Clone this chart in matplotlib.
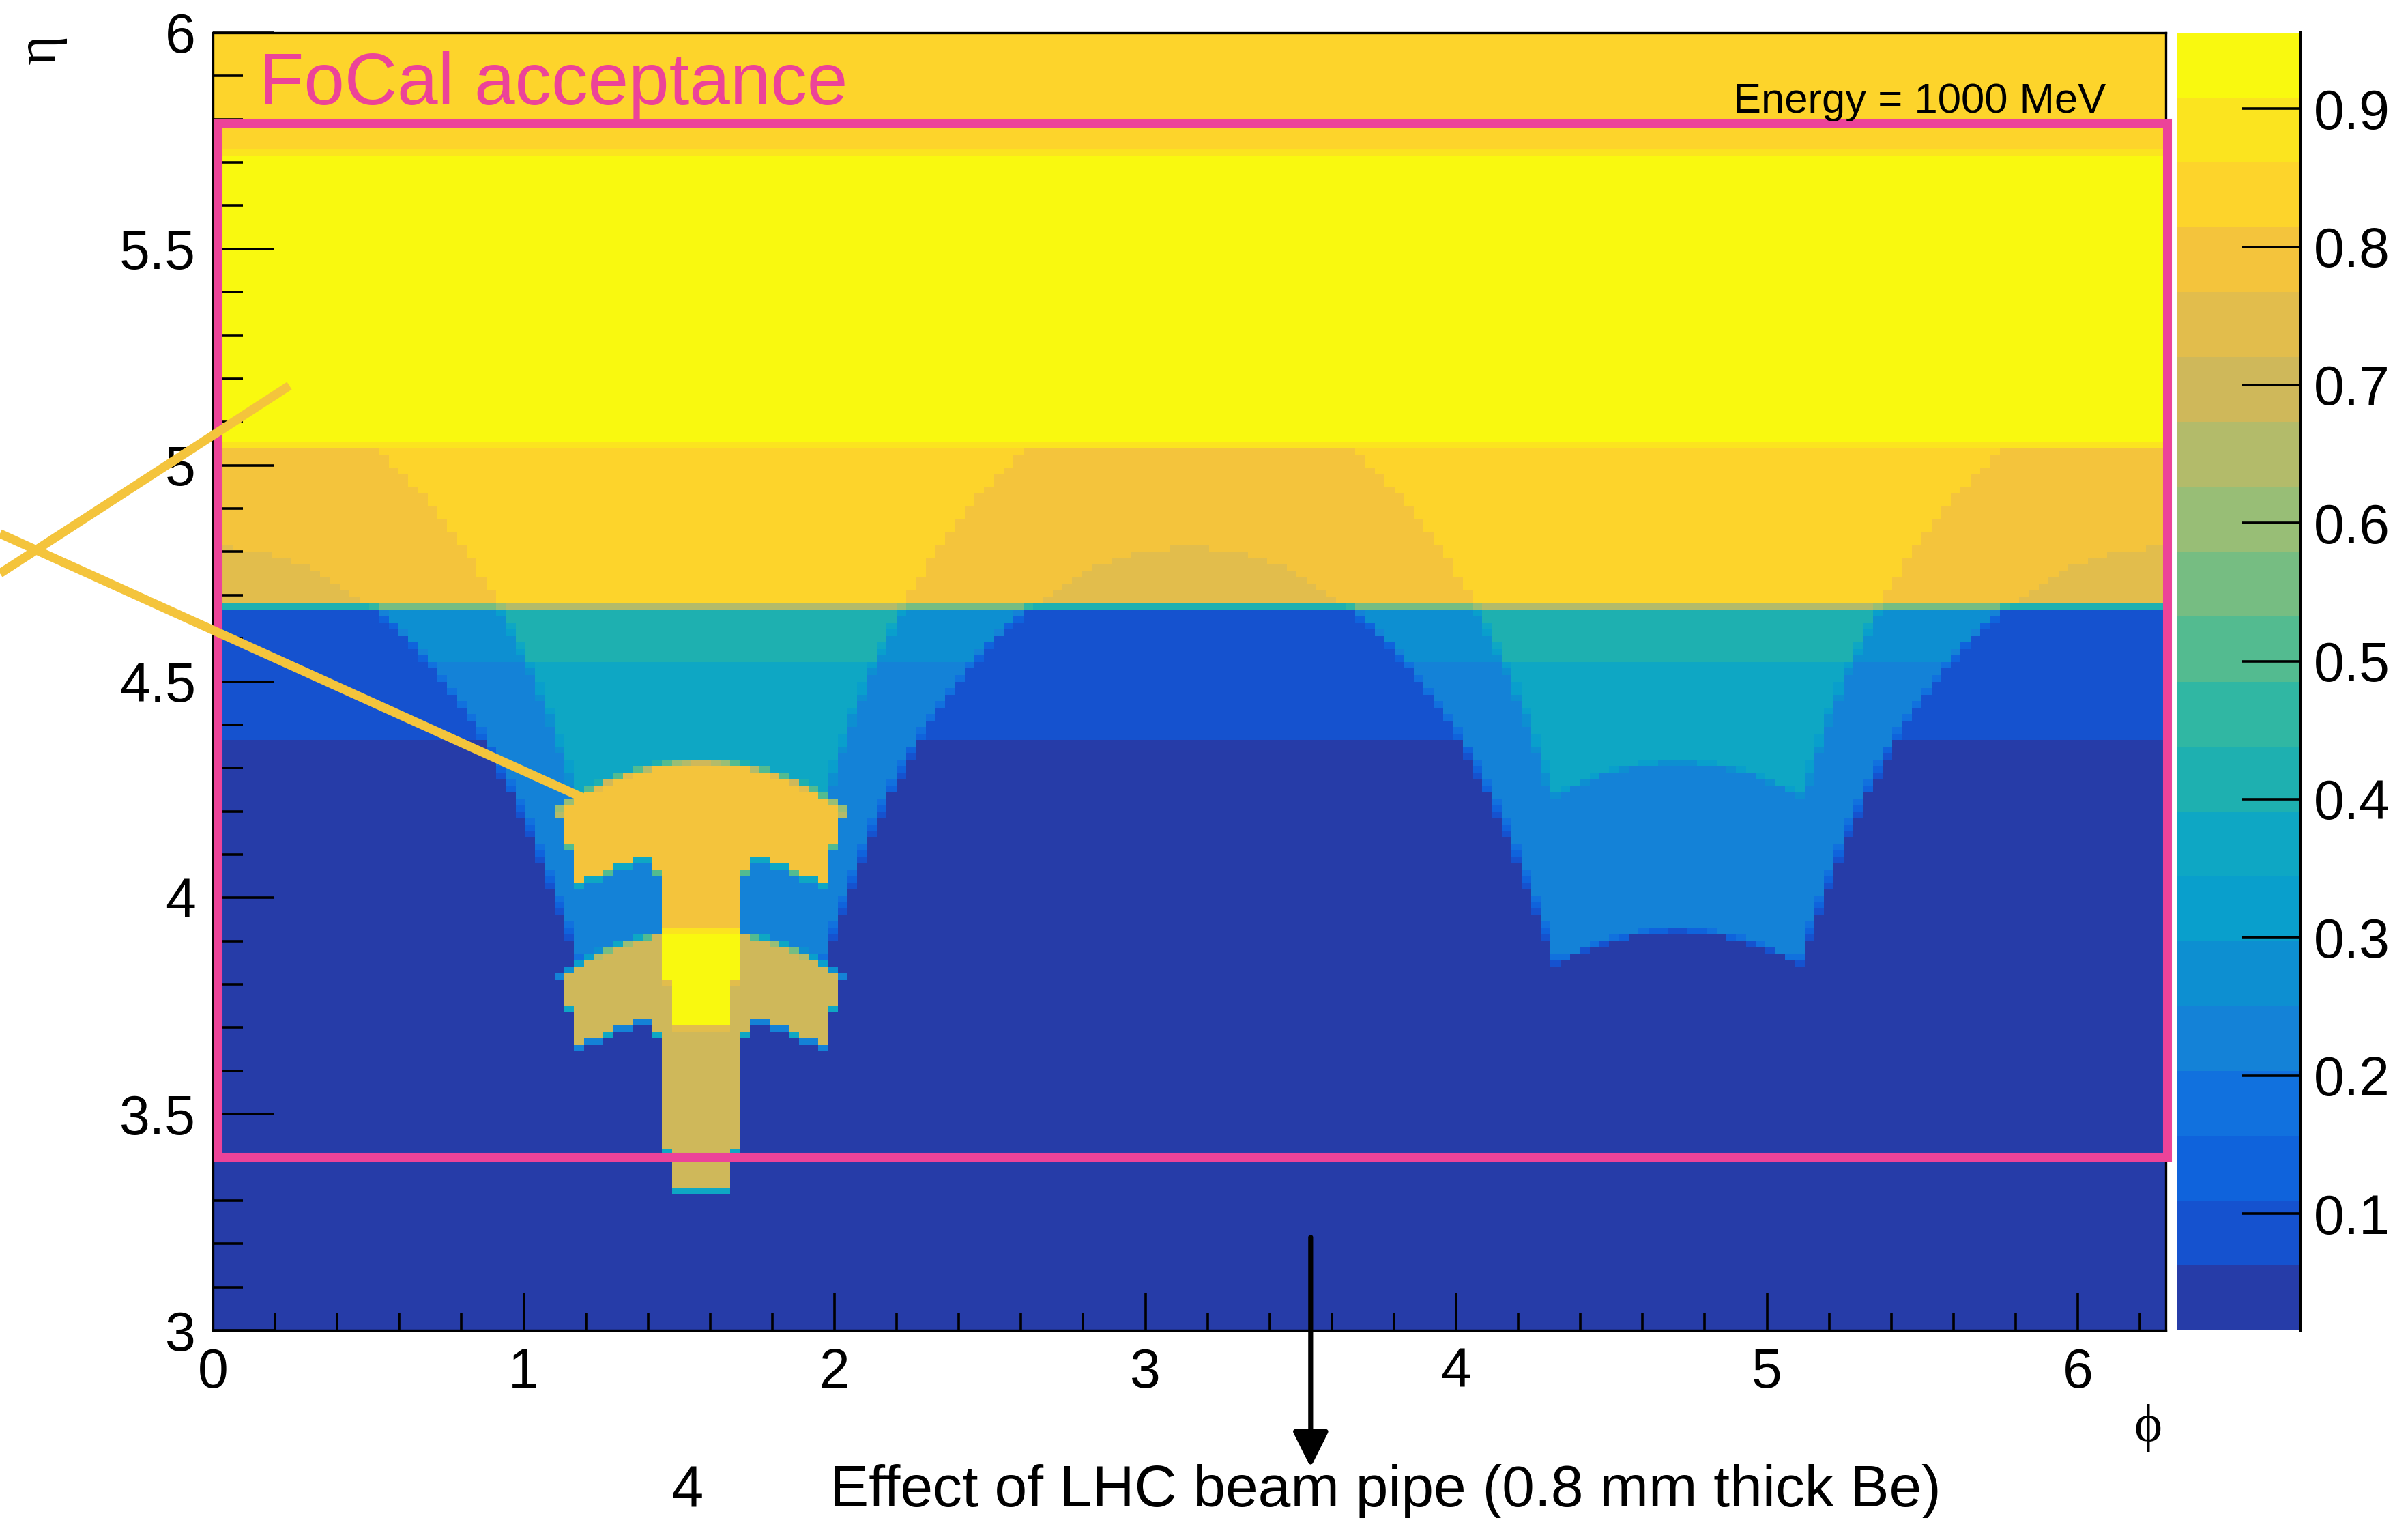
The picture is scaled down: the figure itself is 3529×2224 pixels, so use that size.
import numpy as np
import matplotlib
matplotlib.use("Agg")
import matplotlib.pyplot as plt
from matplotlib.colors import ListedColormap, BoundaryNorm
from matplotlib.patches import Rectangle
from matplotlib.ticker import MultipleLocator

plt.rcParams['font.family'] = ['Liberation Sans', 'DejaVu Sans']

# palette: 20 contour bands, bottom to top (as they appear in the picture)
band_colors = ['#263CA8', '#1552CF', '#0F63DC', '#1171DE', '#1482D7',
               '#0D8FD1', '#099FCC', '#0EA7C4', '#1EB0B0', '#30B7A3',
               '#53BB90', '#76BD82', '#98BE76', '#B3BB6A', '#CFB85A',
               '#E2BD4C', '#F4C43C', '#FDD42B', '#FBE41F', '#F9F90F']
z_min, z_max = 0.0155, 0.955

# histogram binning
n_phi, n_eta = 200, 200
eta_lo, eta_hi = 3.0, 6.0

# horizontal structure (eta boundaries)
eta_top_strip = 5.7225
eta_yellow_low = 5.0475
eta_arc_low = 4.6707
eta_split = 4.547
eta_base_low = 4.365

# contents of the regions
top_value = 0.838
yellow_value = 0.932
arc_values = [0.744, 0.791, 0.838]    # inner arc, outer arc, outside
dome_values = [0.039, 0.086]          # below / above eta_base_low
ring_values = [0.227, 0.274]          # below / above eta_split
inner_values = [0.368, 0.415]
wing_values = [0.791, 0.697]          # upper / lower part of the support
overlap_value = 0.932

# arc peaks: faces at phi = 0, pi (u) and phi = pi/2, 3pi/2 (v)
u_peaks = [4.81, 5.18]
v_peaks = [3.925, 4.316]

# T-shaped support at phi = pi/2
stem_halfwidths = [0.125, 0.094]
stem_bottoms = [3.412, 3.324]
yellow_wide = [3.806, 3.926]
yellow_narrow = [3.70, 3.806]
wing_side_eta = [4.187, 4.116]
wing_side_halfwidth = [0.47, 0.438, 0.407]
wing_bottom_dphi = [0.157, 0.220, 0.283, 0.314, 0.377]
wing_bottom_eta = [4.059, 4.090, 4.077, 4.059, 4.045, 4.031]
lower_wing_shift = 0.375


def fill_map(P, E):
    with np.errstate(divide='ignore'):
        u = E - np.log(np.abs(np.cos(P)))
        v = E - np.log(np.abs(np.sin(P)))
    z = np.where(E >= eta_base_low, dome_values[1], dome_values[0])
    upper = E >= eta_split
    valley = u > u_peaks[0]
    inner = valley & (u > u_peaks[1]) & (v > v_peaks[1])
    ring = valley & ~inner & (v > v_peaks[0])
    z = np.where(ring, np.where(upper, ring_values[1], ring_values[0]), z)
    z = np.where(inner, np.where(upper, inner_values[1], inner_values[0]), z)
    arc = np.where(u < u_peaks[0], arc_values[0],
                   np.where(u < u_peaks[1], arc_values[1], arc_values[2]))
    z = np.where(E >= eta_arc_low, arc, z)
    z = np.where(E >= eta_yellow_low, yellow_value, z)
    z = np.where(E >= eta_top_strip, top_value, z)

    # support structure
    ad = np.abs(P - np.pi / 2)
    bot = np.array(wing_bottom_eta)[np.searchsorted(wing_bottom_dphi, ad)]

    def wing(Es, v_top):
        hw = np.select([Es >= wing_side_eta[0], Es >= wing_side_eta[1]],
                       wing_side_halfwidth[:2], wing_side_halfwidth[2])
        return (v <= v_top) & (Es >= bot) & (ad <= hw)

    up = wing(E, v_peaks[1])
    lo = wing(E + lower_wing_shift, v_peaks[0])
    stem = ((ad <= stem_halfwidths[0]) & (E >= stem_bottoms[0])) | \
           ((ad <= stem_halfwidths[1]) & (E >= stem_bottoms[1]))
    stem = stem & (v <= v_peaks[1])
    z = np.where(up | (stem & (v > v_peaks[0])), wing_values[0], z)
    z = np.where(lo | (stem & (v <= v_peaks[0])), wing_values[1], z)
    yellow = ((ad <= stem_halfwidths[0]) & (E >= yellow_wide[0]) & (E < yellow_wide[1])) | \
             ((ad <= stem_halfwidths[1]) & (E >= yellow_narrow[0]) & (E < yellow_narrow[1]))
    z = np.where(yellow, overlap_value, z)
    return z


# fill bins by averaging a finer sampling inside each bin
ss = 4
phi_s = (np.arange(n_phi * ss) + 0.5) / (n_phi * ss) * 2 * np.pi
eta_s = eta_lo + (np.arange(n_eta * ss) + 0.5) / (n_eta * ss) * (eta_hi - eta_lo)
P, E = np.meshgrid(phi_s, eta_s)
Z = fill_map(P, E).reshape(n_eta, ss, n_phi, ss).mean(axis=(1, 3))

phi_edges = np.linspace(0, 2 * np.pi, n_phi + 1)
eta_edges = np.linspace(eta_lo, eta_hi, n_eta + 1)

W, H = 3529, 2224
fig = plt.figure(figsize=(W / 200, H / 200), dpi=200)
ax = fig.add_axes([312 / W, 1 - 1949 / H, (3174 - 312) / W, (1949 - 48) / H])
cax = fig.add_axes([3191 / W, 1 - 1949 / H, (3371 - 3191) / W, (1949 - 48) / H])

levels = np.linspace(z_min, z_max, 21)
cmap = ListedColormap(band_colors)
norm = BoundaryNorm(levels, cmap.N)
mesh = ax.pcolormesh(phi_edges, eta_edges, Z, cmap=cmap, norm=norm,
                     edgecolors='none', antialiased=False)
ax.set_xlim(0, 2 * np.pi)
ax.set_ylim(eta_lo, eta_hi)

# axes and ticks
for s in ax.spines.values():
    s.set_linewidth(1.2)
ax.set_xticks(range(7))
ax.xaxis.set_minor_locator(MultipleLocator(0.2))
ax.set_yticks(np.arange(3, 6.01, 0.5))
ax.set_yticklabels(['3', '3.5', '4', '4.5', '5', '5.5', '6'])
ax.yaxis.set_minor_locator(MultipleLocator(0.1))
ax.tick_params(axis='x', which='major', direction='in', length=19.4, width=1.3,
               labelsize=29, pad=9, top=False)
ax.tick_params(axis='x', which='minor', direction='in', length=9.4, width=1.3, top=False)
ax.tick_params(axis='y', which='major', direction='in', length=32, width=1.3,
               labelsize=29, pad=9, right=False)
ax.tick_params(axis='y', which='minor', direction='in', length=16, width=1.3, right=False)

# colour scale
cbar = fig.colorbar(mesh, cax=cax, ticks=np.arange(0.1, 0.91, 0.1))
cbar.set_ticklabels([f"{t:.1f}" for t in np.arange(0.1, 0.91, 0.1)])
cbar.outline.set_visible(False)
cbar.minorticks_off()
cax.tick_params(axis='y', direction='in', length=31, width=1.3, labelsize=29, pad=7,
                right=True, left=False)
cax.plot([1, 1], [0, 1], transform=cax.transAxes, color='k', lw=1.8, clip_on=False)

# FoCal acceptance box and annotations
pink = '#EC4399'
ax.add_patch(Rectangle((0.0154, 3.401), 6.287 - 0.0154, 5.792 - 3.401, fill=False,
                       edgecolor=pink, lw=4.7, clip_on=False, zorder=5))
ax.text(0.150, 5.834, 'FoCal acceptance', color=pink, fontsize=38.5,
        ha='left', va='baseline', zorder=6)
ax.text(4.891, 5.815, 'Energy = 1000 MeV', color='black', fontsize=22.2,
        ha='left', va='baseline', zorder=6)

line_col = '#F4C43C'
ax.plot([-0.685, 0.246], [4.750, 5.184], color=line_col, lw=4.7,
        solid_capstyle='butt', clip_on=False, zorder=7)
ax.plot([-0.685, 1.225], [4.842, 4.220], color=line_col, lw=4.7,
        solid_capstyle='butt', clip_on=False, zorder=7)

ax.annotate('', xy=(3.532, 2.683), xytext=(3.532, 3.215), xycoords='data',
            arrowprops=dict(arrowstyle='-|>,head_length=0.8,head_width=0.4',
                            color='black', lw=2.6, mutation_scale=20,
                            shrinkA=0, shrinkB=0),
            annotation_clip=False)

fig.text(984 / W, 1 - 2207 / H, '4', fontsize=30.5, ha='left', va='baseline')
fig.text(1216 / W, 1 - 2207 / H, 'Effect of LHC beam pipe (0.8 mm thick Be)',
         fontsize=30.9, ha='left', va='baseline')

serif = ['Liberation Serif', 'DejaVu Serif']
fig.text(60 / W, 1 - 72 / H, 'η', rotation=90, fontsize=30, family=serif,
         ha='center', va='center')
fig.text(3148 / W, 1 - 2092 / H, 'ϕ', fontsize=28, family=serif,
         ha='center', va='center')

fig.savefig('out.png', dpi=200)
